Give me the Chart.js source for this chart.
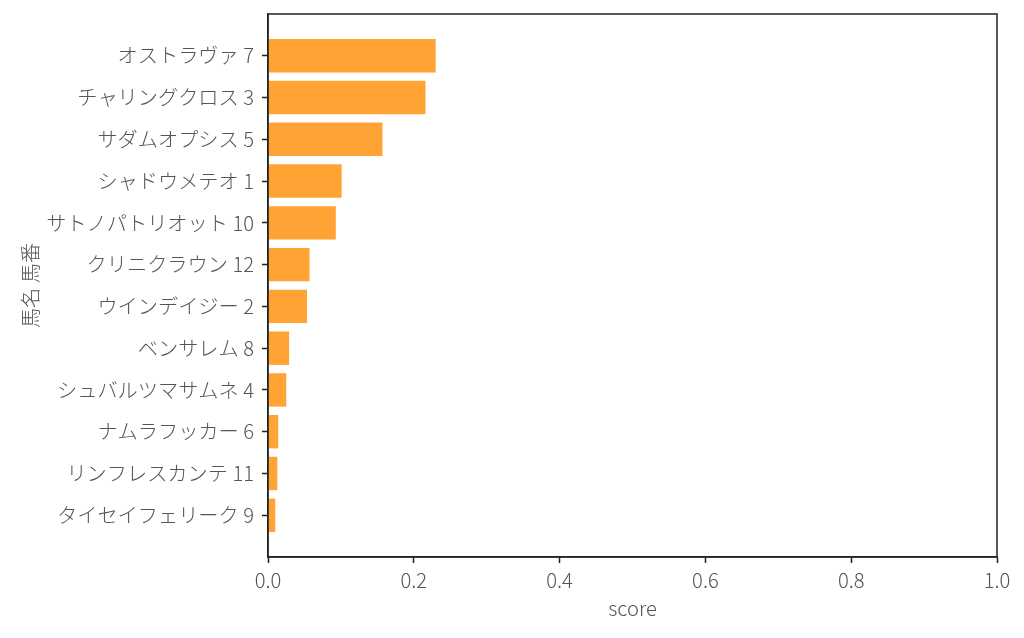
<!DOCTYPE html>
<html>
<head>
<meta charset="utf-8">
<script src="https://cdn.jsdelivr.net/npm/chart.js@4"></script>
<style>
  html, body { margin: 0; padding: 0; background: #fff; }
  #wrap { width: 1024px; height: 638px; }
</style>
</head>
<body>
<div id="wrap"><canvas id="chart"></canvas></div>
<script>
const horses = ['オストラヴァ 7', 'チャリングクロス 3', 'サダムオプシス 5', 'シャドウメテオ 1',
  'サトノパトリオット 10', 'クリニクラウン 12', 'ウインデイジー 2', 'ベンサレム 8',
  'シュバルツマサムネ 4', 'ナムラフッカー 6', 'リンフレスカンテ 11', 'タイセイフェリーク 9'];
const scores = [0.230, 0.216, 0.157, 0.101, 0.093, 0.057, 0.0535, 0.029, 0.025, 0.014, 0.0128, 0.010];
const xTicks = [0, 0.2, 0.4, 0.6, 0.8, 1.0];

// empty slot at both ends so the bars sit one full step away from the frame
const labels = [''].concat(horses, ['']);
const values = [null].concat(scores, [null]);

const font = { family: "'Noto Sans CJK JP', 'Noto Sans', sans-serif", size: 20.2, weight: 300 };
const ink = '#555';
const axisInk = '#222';

const frame = {
  id: 'frame',
  afterDraw(chart) {
    const a = chart.chartArea, c = chart.ctx;
    c.save();
    c.strokeStyle = axisInk;
    c.lineWidth = 1.5;
    c.strokeRect(a.left, a.top, a.right - a.left, a.bottom - a.top);
    c.restore();
  }
};

new Chart(document.getElementById('chart'), {
  type: 'bar',
  data: {
    labels: labels,
    datasets: [{
      label: 'score',
      data: values,
      backgroundColor: 'rgb(255, 163, 52)',
      borderWidth: 0,
      barPercentage: 0.8,
      categoryPercentage: 1
    }]
  },
  options: {
    indexAxis: 'y',
    responsive: true,
    maintainAspectRatio: false,
    animation: false,
    layout: { padding: { top: 14, right: 27, left: 0, bottom: 0 } },
    plugins: {
      legend: { display: false },
      tooltip: { enabled: false }
    },
    scales: {
      x: {
        min: 0, max: 1,
        afterBuildTicks: s => { s.ticks = xTicks.map(v => ({ value: v })); },
        afterFit: s => { s.height = 81; s.paddingRight = 0; },
        ticks: { font: font, color: ink, padding: 5, callback: v => v.toFixed(1) },
        grid: { drawOnChartArea: false, tickLength: 6, tickWidth: 1.5, tickColor: axisInk },
        border: { color: axisInk, width: 1.5 },
        title: { display: true, text: 'score', font: font, color: ink, padding: { top: 4, bottom: 18 } }
      },
      y: {
        offset: false,
        afterFit: s => { s.width = 268; s.paddingTop = 0; s.paddingBottom = 0; },
        ticks: { font: font, color: ink, padding: 8, autoSkip: false },
        grid: {
          offset: false, drawOnChartArea: false, tickLength: 6, tickWidth: 1.5,
          tickColor: ctx => (ctx.index === 0 || ctx.index === labels.length - 1) ? 'rgba(0,0,0,0)' : axisInk
        },
        border: { color: axisInk, width: 1.5 },
        title: { display: true, text: '馬名 馬番', font: font, color: ink, padding: { top: 18, bottom: 0 } }
      }
    }
  },
  plugins: [frame]
});
</script>
</body>
</html>
